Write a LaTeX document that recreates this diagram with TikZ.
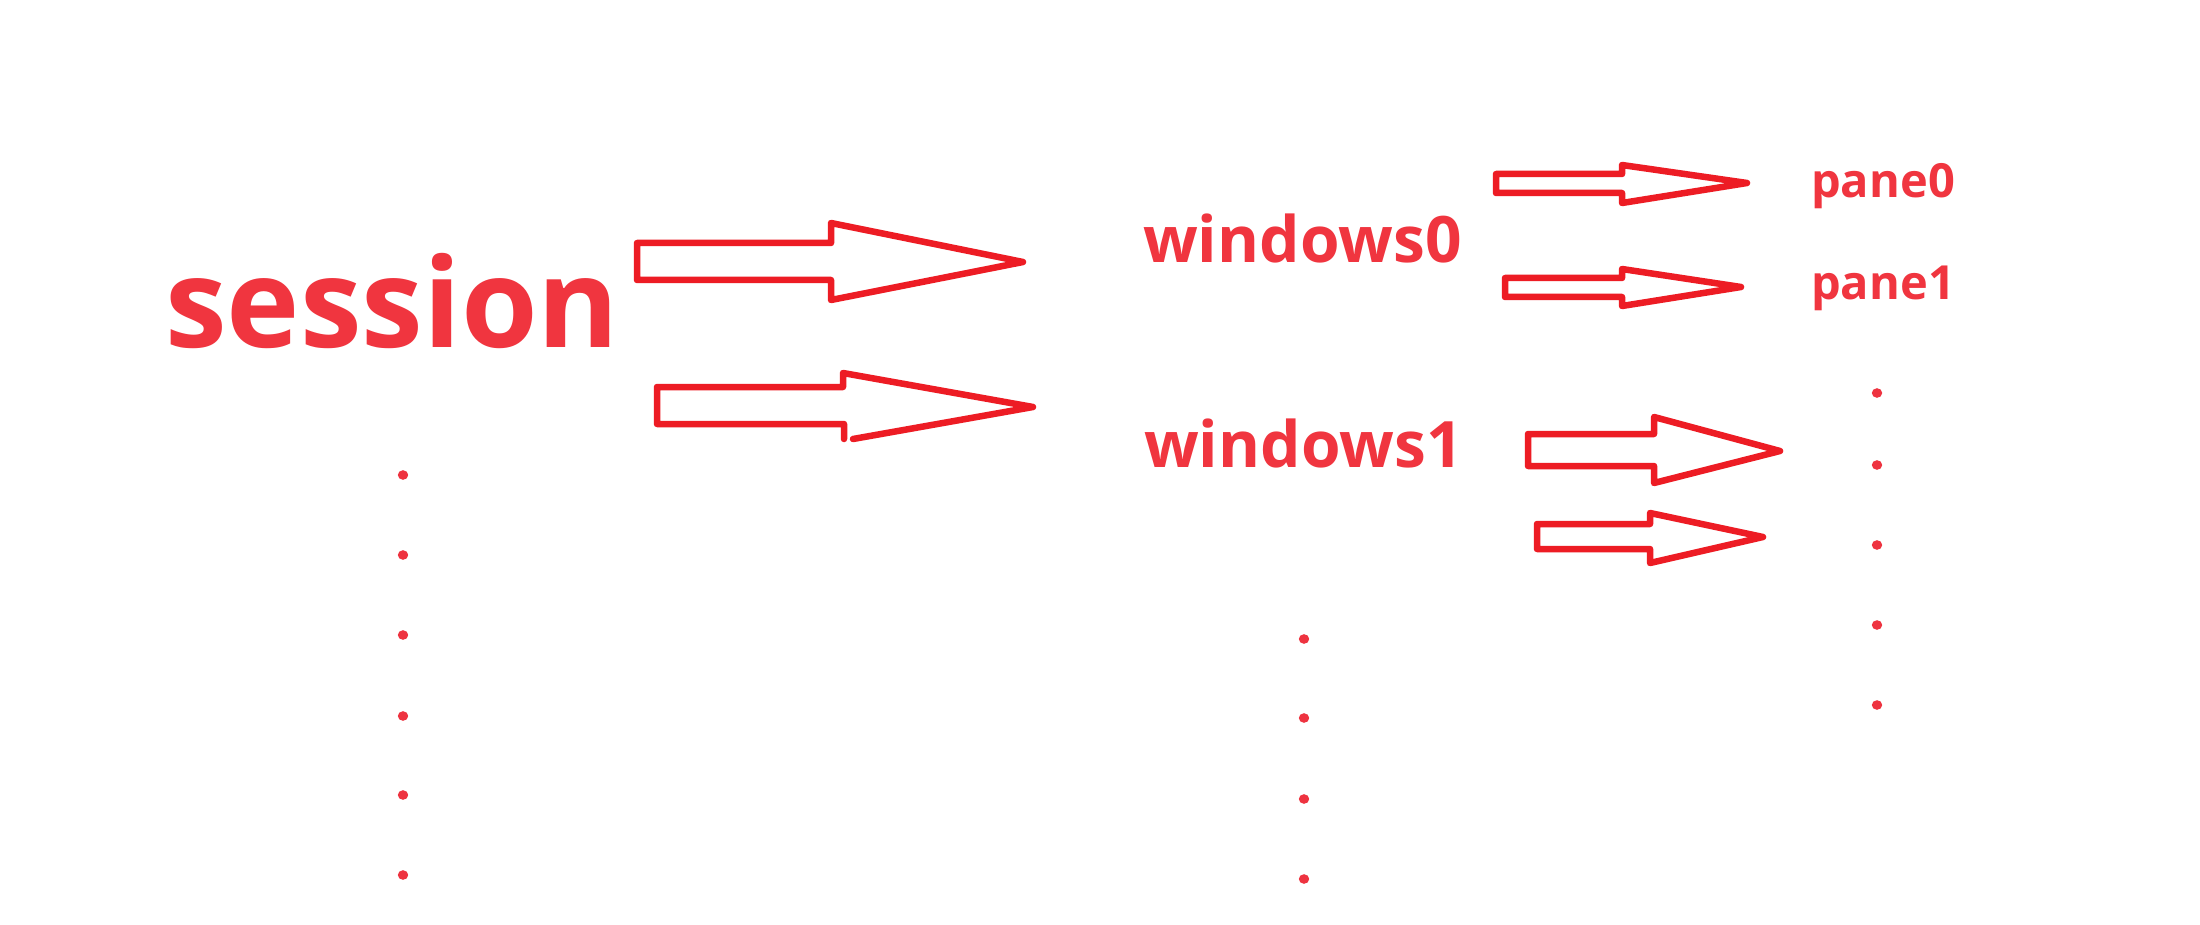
\documentclass[tikz,border=0pt]{standalone}
\usepackage{fontspec}
\setmainfont{Open Sans}
\definecolor{txtred}{HTML}{F0353F}
\definecolor{arrred}{HTML}{ED1C24}
\definecolor{dotred}{HTML}{EE3340}
\begin{document}
\begin{tikzpicture}[x=1pt,y=-1pt,
  lbl/.style={anchor=base west,inner sep=0pt,text=txtred,font=\bfseries},
  blockarrow/.style={draw=arrred,line width=6.5pt,line join=round,line cap=round},
  dotmark/.style={fill=dotred,draw=none}]
\useasboundingbox (0,0) rectangle (2200,925);
\fill[white] (0,0) rectangle (2200,925);
% texts
\node[lbl,font=\bfseries\fontsize{124}{124}\selectfont] (session) at (165,347) {session};
\node[lbl,font=\bfseries\fontsize{64}{64}\selectfont] (win0) at (1143,263) {windows0};
\node[lbl,font=\bfseries\fontsize{64}{64}\selectfont] (win1) at (1144,467) {windows1};
\node[lbl,font=\bfseries\fontsize{47}{47}\selectfont] (pane0) at (1811,198) {pane0};
\node[lbl,font=\bfseries\fontsize{47}{47}\selectfont] (pane1) at (1811,300) {pane1};
% block arrows
\draw[blockarrow] (637,243) -- (831,243) -- (831,223) -- (1023,262) -- (831,300) -- (831,280) -- (637,280) -- cycle;
\draw[blockarrow] (853,439) -- (1033,407) -- (843,373) -- (843,387) -- (657,387) -- (657,424) -- (844,424) -- (844,439);
\draw[blockarrow] (1496,174) -- (1622,174) -- (1622,165) -- (1747,183) -- (1622,203) -- (1622,193) -- (1496,193) -- cycle;
\draw[blockarrow] (1505,278) -- (1622,278) -- (1622,269) -- (1741,287) -- (1622,306) -- (1622,297) -- (1505,297) -- cycle;
\draw[blockarrow] (1528,434) -- (1654,434) -- (1654,417) -- (1780,451) -- (1654,483) -- (1654,466) -- (1528,466) -- cycle;
\draw[blockarrow] (1537,524) -- (1650,524) -- (1650,513) -- (1763,537) -- (1650,563) -- (1650,549) -- (1537,549) -- cycle;
% dots
\foreach \y in {475,555,635,716,795,875} \fill[dotmark] (403,\y) ellipse (5.2 and 4.8);
\foreach \y in {639,718,799,879} \fill[dotmark] (1304,\y) ellipse (5.2 and 4.8);
\foreach \y in {393,465,545,625,705} \fill[dotmark] (1877,\y) ellipse (5.2 and 4.8);
\end{tikzpicture}
\end{document}
